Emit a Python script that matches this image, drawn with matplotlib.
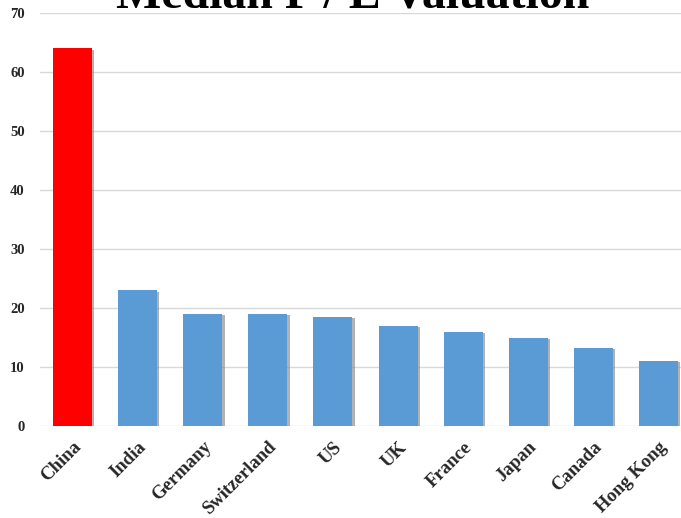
import matplotlib
matplotlib.use("Agg")
import matplotlib.pyplot as plt
import matplotlib.patheffects as pe
import matplotlib.transforms as mtransforms

countries = ["China", "India", "Germany", "Switzerland", "US", "UK",
             "France", "Japan", "Canada", "Hong Kong"]
pe_values = [64, 23, 19, 19, 18.5, 17, 16, 15, 13.3, 11]
bar_colors = ["#FF0000"] + ["#5B9BD5"] * 9
y_ticks = [0, 10, 20, 30, 40, 50, 60, 70]
title = "Median P / E Valuation"

fig = plt.figure(figsize=(6.81, 5.18), dpi=100)
ax = fig.add_axes([40 / 681, 92 / 518, 651 / 681, 413 / 518])

x = list(range(len(countries)))
bars = ax.bar(x, pe_values, width=0.6, color=bar_colors, zorder=3)
for b in bars:
    b.set_path_effects([pe.SimplePatchShadow(offset=(1.6, -1.0), shadow_rgbFace="#7f7f7f", alpha=0.6),
                        pe.Normal()])

ax.set_xlim(-0.5, len(countries) - 0.5)
ax.set_ylim(0, 70)
ax.set_yticks(y_ticks)
ax.set_yticklabels([str(t) for t in y_ticks], fontfamily="Liberation Serif",
                   fontweight="bold", fontsize=10.5, color="#262626")
ax.set_xticks(x)
ax.set_xticklabels(countries, rotation=45, ha="right", rotation_mode="anchor",
                   fontfamily="Liberation Serif", fontweight="bold", fontsize=13.5,
                   color="#262626")
shift = mtransforms.ScaledTranslation(0.02, 0.01, fig.dpi_scale_trans)
for lbl in ax.get_xticklabels():
    lbl.set_transform(lbl.get_transform() + shift)
ax.tick_params(axis="y", length=0, pad=11)
ax.tick_params(axis="x", length=0, pad=9)
for s in ax.spines.values():
    s.set_visible(False)
ax.grid(axis="y", color="#D9D9D9", linewidth=1.0, zorder=0)
ax.set_axisbelow(True)

fig.text(353 / 681, 1 - 8 / 518, title, ha="center", va="baseline",
         fontfamily="Liberation Serif", fontweight="bold", fontsize=34.5, color="black")

fig.savefig("out.png", dpi=100)
